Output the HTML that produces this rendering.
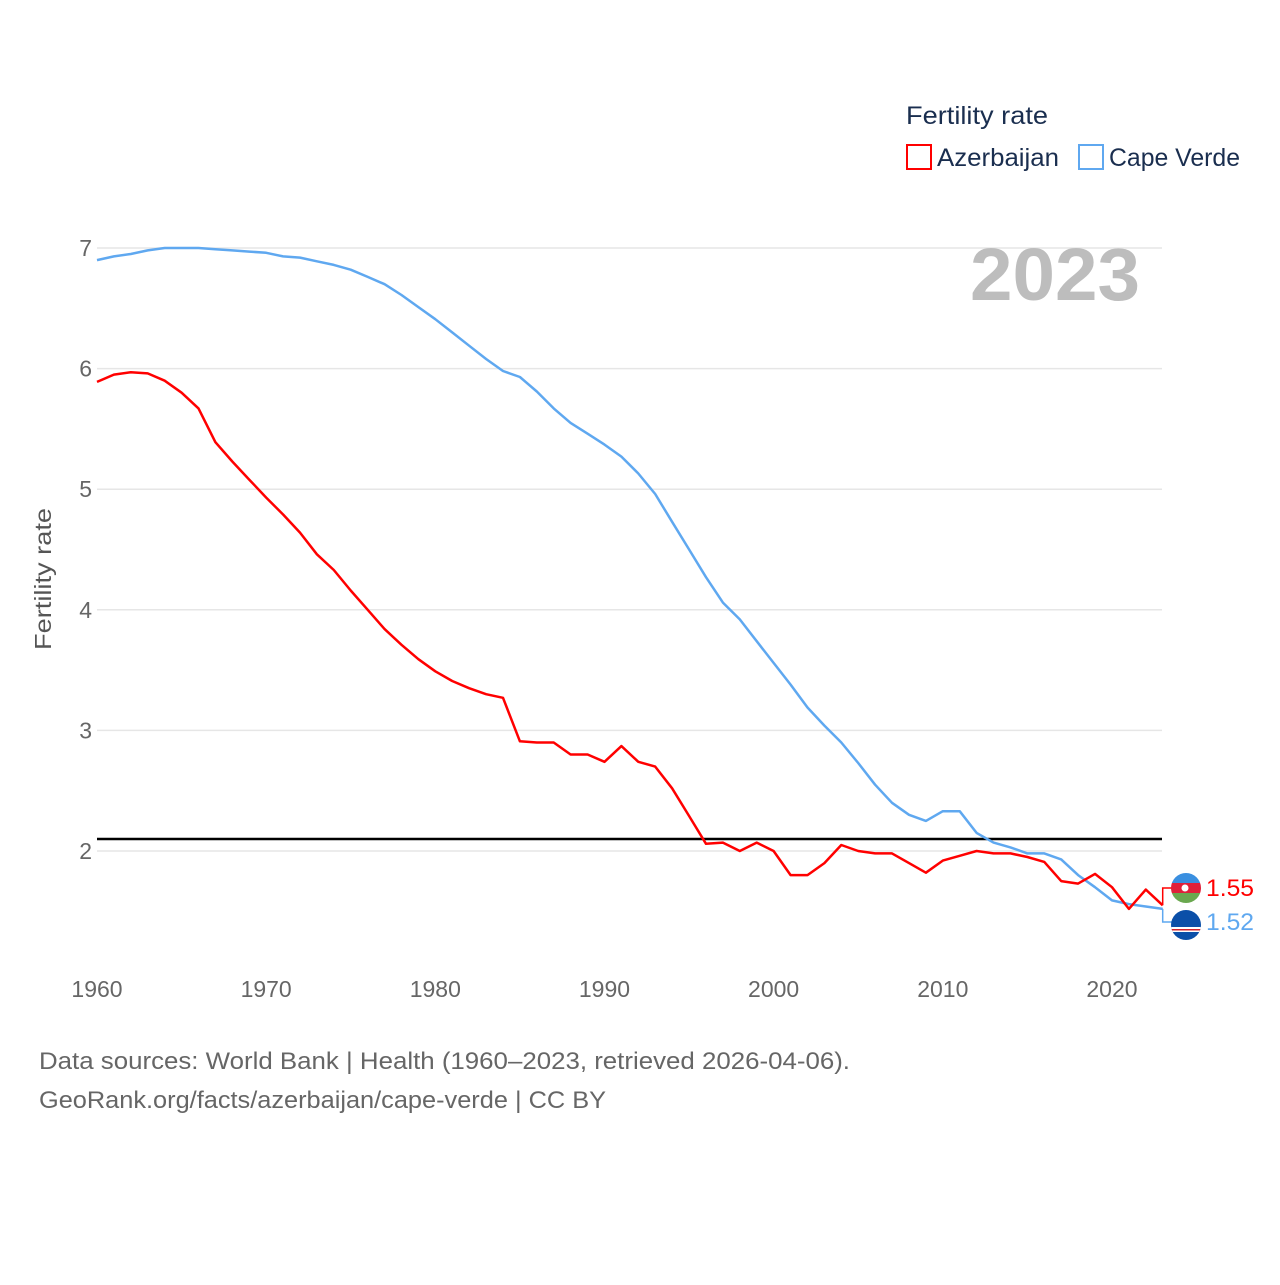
<!DOCTYPE html>
<html><head><meta charset="utf-8">
<style>
html,body{margin:0;padding:0;background:#fff;}
body{width:1280px;height:1280px;overflow:hidden;font-family:"Liberation Sans",sans-serif;}
svg text{font-family:"Liberation Sans",sans-serif;}
</style></head>
<body>
<svg id="chart" width="1280" height="1280" xmlns="http://www.w3.org/2000/svg">
  <g id="grid"></g>
  <g id="yticks"></g>
  <g id="xticks"></g>
  <text transform="translate(51,579) rotate(-90)" text-anchor="middle" font-size="23" fill="#555" textLength="142" lengthAdjust="spacingAndGlyphs">Fertility rate</text>
  <text x="1140" y="300" text-anchor="end" font-size="74" font-weight="bold" fill="#bdbdbd" textLength="170" lengthAdjust="spacingAndGlyphs">2023</text>
  <g>
    <text x="906" y="124" font-size="25" fill="#1a2e4f" textLength="142" lengthAdjust="spacingAndGlyphs">Fertility rate</text>
    <rect x="907" y="145" width="24" height="24" fill="none" stroke="#ff0000" stroke-width="2"/>
    <text x="937" y="166" font-size="25" fill="#1a2e4f" textLength="122" lengthAdjust="spacingAndGlyphs">Azerbaijan</text>
    <rect x="1079" y="145" width="24" height="24" fill="none" stroke="#5fa8f0" stroke-width="2"/>
    <text x="1109" y="166" font-size="25" fill="#1a2e4f" textLength="131" lengthAdjust="spacingAndGlyphs">Cape Verde</text>
  </g>
  <g id="series"></g>
  <g id="labels"></g>
  <text x="39" y="1069" font-size="24" fill="#666" textLength="811" lengthAdjust="spacingAndGlyphs">Data sources: World Bank | Health (1960–2023, retrieved 2026-04-06).</text>
  <text x="39" y="1108" font-size="24" fill="#666" textLength="567" lengthAdjust="spacingAndGlyphs">GeoRank.org/facts/azerbaijan/cape-verde | CC BY</text>
</svg>
<script>
const years = [];
for (let y = 1960; y <= 2023; y++) years.push(y);
const azerbaijan = [5.89,5.95,5.97,5.96,5.90,5.80,5.67,5.39,5.23,5.08,4.93,4.79,4.64,4.46,4.33,4.16,4.00,3.84,3.71,3.59,3.49,3.41,3.35,3.30,3.27,2.91,2.90,2.90,2.80,2.80,2.74,2.87,2.74,2.70,2.52,2.29,2.06,2.07,2.00,2.07,2.00,1.80,1.80,1.90,2.05,2.00,1.98,1.98,1.90,1.82,1.92,1.96,2.00,1.98,1.98,1.95,1.91,1.75,1.73,1.81,1.70,1.52,1.68,1.55];
const capeVerde = [6.90,6.93,6.95,6.98,7.00,7.00,7.00,6.99,6.98,6.97,6.96,6.93,6.92,6.89,6.86,6.82,6.76,6.70,6.61,6.51,6.41,6.30,6.19,6.08,5.98,5.93,5.81,5.67,5.55,5.46,5.37,5.27,5.13,4.96,4.73,4.50,4.27,4.06,3.92,3.74,3.56,3.38,3.19,3.04,2.90,2.73,2.55,2.40,2.30,2.25,2.33,2.33,2.15,2.07,2.03,1.98,1.98,1.93,1.80,1.70,1.59,1.56,1.54,1.52];
const yTicks = [2,3,4,5,6,7];
const xTicks = [1960,1970,1980,1990,2000,2010,2020];
const replacementRate = [2.1];

const NS = "http://www.w3.org/2000/svg";
const X0 = 97, X1 = 1162.7, Y7 = 248, Y2 = 851;
function xs(v){ return X0 + (v - 1960) * (X1 - X0) / 63; }
function ys(v){ return Y2 - (v - 2) * (Y2 - Y7) / 5; }
function mk(tag, attrs, parent){ const e = document.createElementNS(NS, tag); for (const k in attrs) e.setAttribute(k, attrs[k]); parent.appendChild(e); return e; }

const grid = document.getElementById('grid');
const yt = document.getElementById('yticks');
yTicks.forEach(t => {
  const l = mk('line', {x1: 97, x2: 1162, y1: ys(t), y2: ys(t), stroke: '#e6e6e6', 'stroke-width': 1.5}, grid);
  
  
  const tx = mk('text', {x: 92, y: ys(t) + 8, 'text-anchor': 'end', 'font-size': 23, fill: '#666'}, yt);
  
  
  tx.textContent = t;
});
const xt = document.getElementById('xticks');
xTicks.forEach(t => {
  const tx = mk('text', {x: xs(t), y: 997, 'text-anchor': 'middle', 'font-size': 23, fill: '#666'}, xt);
  
  
  tx.textContent = t;
});
const rl = mk('line', {x1: 97, x2: 1162, y1: ys(replacementRate[0]), y2: ys(replacementRate[0]), stroke: '#000', 'stroke-width': 2.5}, grid);



const sg = document.getElementById('series');
function drawLine(vals, color, name){
  const d = vals.map((v, i) => (i ? 'L' : 'M') + xs(years[i]).toFixed(1) + ',' + ys(v).toFixed(1)).join('');
  const p = mk('path', {d: d, fill: 'none', stroke: color, 'stroke-width': 2.5, 'stroke-linejoin': 'round'}, sg);
  
  
}
drawLine(capeVerde, '#5fa8f0', 'line-cape-verde');
drawLine(azerbaijan, '#ff0000', 'line-azerbaijan');

const lg = document.getElementById('labels');
const lastA = azerbaijan[azerbaijan.length - 1], lastC = capeVerde[capeVerde.length - 1];
const ax = xs(2023), aY = 888, cY = 922;
const c1 = mk('path', {d: `M${ax},${ys(lastA)}V${aY}H1172`, fill: 'none', stroke: '#ff0000', 'stroke-width': 1.5}, lg);


const c2 = mk('path', {d: `M${ax},${ys(lastC)}V${cY}H1172`, fill: 'none', stroke: '#5fa8f0', 'stroke-width': 1.5}, lg);


const fa = mk('g', {}, lg);


const ca = mk('clipPath', {id: 'ca'}, fa);
mk('circle', {cx: 1186, cy: aY, r: 15}, ca);
const ga = mk('g', {'clip-path': 'url(#ca)'}, fa);
mk('rect', {x: 1171, y: aY - 15, width: 30, height: 10, fill: '#3a8fe0'}, ga);
mk('rect', {x: 1171, y: aY - 5, width: 30, height: 10, fill: '#e0203a'}, ga);
mk('rect', {x: 1171, y: aY + 5, width: 30, height: 10, fill: '#6aa84f'}, ga);
mk('circle', {cx: 1185, cy: aY, r: 3.5, fill: '#fff'}, ga);
const fc = mk('g', {}, lg);


const cp = mk('clipPath', {id: 'cc'}, fc);
mk('circle', {cx: 1186, cy: cY + 3, r: 15}, cp);
const gc = mk('g', {'clip-path': 'url(#cc)'}, fc);
mk('rect', {x: 1171, y: cY - 12, width: 30, height: 30, fill: '#0b4fa8'}, gc);
mk('rect', {x: 1171, y: cY + 5, width: 30, height: 5, fill: '#fff'}, gc);
mk('rect', {x: 1171, y: cY + 7, width: 30, height: 1.5, fill: '#d0202a'}, gc);
const ta = mk('text', {x: 1206, y: aY + 8, 'font-size': 24, fill: '#ff0000', textLength: 48, lengthAdjust: 'spacingAndGlyphs'}, lg);


ta.textContent = lastA.toFixed(2);
const tc = mk('text', {x: 1206, y: cY + 8, 'font-size': 24, fill: '#5fa8f0', textLength: 48, lengthAdjust: 'spacingAndGlyphs'}, lg);


tc.textContent = lastC.toFixed(2);
</script>
</body></html>
